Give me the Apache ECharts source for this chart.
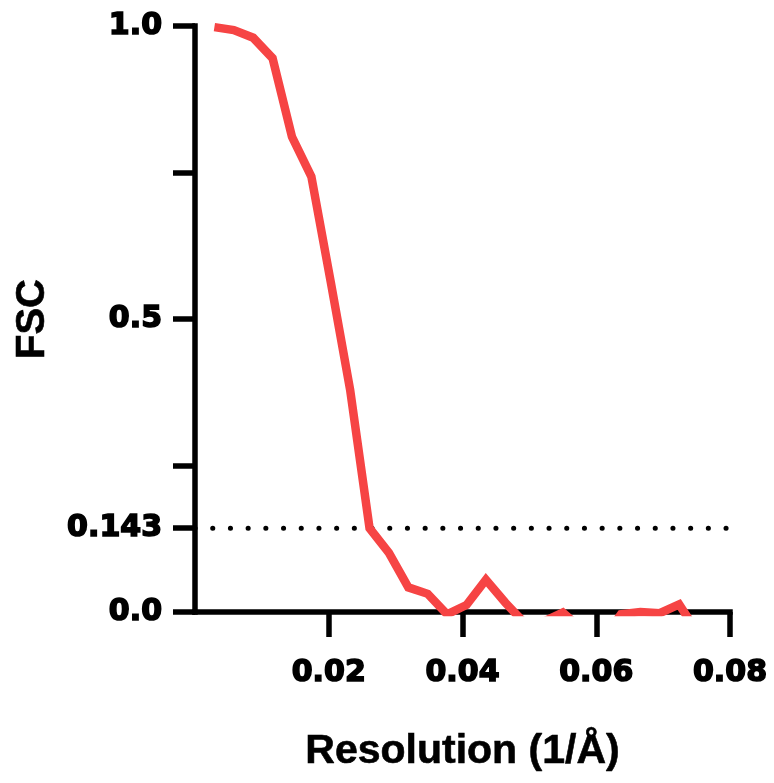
<!DOCTYPE html>
<html><head><meta charset="utf-8">
<script src="https://cdn.jsdelivr.net/npm/echarts@6/dist/echarts.min.js"></script>
<style>html,body{margin:0;padding:0;background:#fff}#c{width:774px;height:783px}</style>
</head><body><div id="c"></div>
<script>
// Spatial frequency (1/Å)
const resolution = [0.0029, 0.0058, 0.0087, 0.0116, 0.0145, 0.0174, 0.0203, 0.0232, 0.0261,
  0.0290, 0.0319, 0.0348, 0.0377, 0.0406, 0.0435, 0.0464, 0.0493, 0.0522, 0.0550,
  0.0579, 0.0608, 0.0637, 0.0666, 0.0695, 0.0724, 0.0753, 0.0782];
// Fourier shell correlation
const fsc = [0.998, 0.993, 0.980, 0.945, 0.811, 0.743, 0.563, 0.379, 0.143,
  0.101, 0.042, 0.031, -0.004, 0.012, 0.055, 0.016, -0.019, -0.016, -0.001,
  -0.030, -0.050, -0.004, 0.000, -0.002, 0.013, -0.038, -0.020];
const thresholdX = [0, 0.08];
const thresholdY = [0.143, 0.143];
const yTickValues = [0, 0.143, 0.25, 0.5, 0.75, 1];
const yLabelValues = [0, 0.143, 0.5, 1];
const yLabelTexts = ['0.0', '0.143', '0.5', '1.0'];
const xTickValues = [0.02, 0.04, 0.06, 0.08];
const xLabelTexts = ['0.02', '0.04', '0.06', '0.08'];

const curve = resolution.map((x, i) => [x, fsc[i]]);
const threshold = thresholdX.map((x, i) => [x, thresholdY[i]]);

function lookup(vals, texts) {
  return function (v) {
    for (let i = 0; i < vals.length; i++) if (Math.abs(vals[i] - v) < 1e-9) return texts[i];
    return '';
  };
}

const tickFont = {fontFamily: 'DejaVu Sans', fontWeight: 'bold', fontSize: 30, color: '#000',
  textBorderColor: '#000', textBorderWidth: 1.6};

const chart = echarts.init(document.getElementById('c'), null, {renderer: 'canvas'});
chart.setOption({
  animation: false,
  backgroundColor: '#ffffff',
  grid: {left: 195, right: 44, top: 26, bottom: 171, containLabel: false},
  xAxis: {
    type: 'value', min: 0, max: 0.08,
    name: 'Resolution (1/Å)', nameLocation: 'middle', nameGap: 119,
    nameTextStyle: {fontFamily: 'Liberation Sans', fontWeight: 'bold', fontSize: 41, color: '#000',
      textBorderColor: '#000', textBorderWidth: 0.6},
    axisLine: {show: true, onZero: false, lineStyle: {color: '#000', width: 5.5, cap: 'square'}},
    axisTick: {show: true, customValues: xTickValues, length: 25, lineStyle: {color: '#000', width: 5.5}},
    axisLabel: Object.assign({show: true, customValues: xTickValues, margin: 46,
      formatter: lookup(xTickValues, xLabelTexts)}, tickFont),
    splitLine: {show: false}
  },
  yAxis: {
    type: 'value', min: 0, max: 1,
    name: 'FSC', nameLocation: 'middle', nameGap: 142, nameRotate: 90,
    nameTextStyle: {fontFamily: 'Liberation Sans', fontWeight: 'bold', fontSize: 40, color: '#000',
      textBorderColor: '#000', textBorderWidth: 0.6},
    axisLine: {show: true, onZero: false, lineStyle: {color: '#000', width: 5.5, cap: 'square'}},
    axisTick: {show: true, customValues: yTickValues, length: 22, lineStyle: {color: '#000', width: 5.5}},
    axisLabel: Object.assign({show: true, customValues: yLabelValues, margin: 33,
      formatter: lookup(yLabelValues, yLabelTexts)}, tickFont),
    splitLine: {show: false}
  },
  series: [
    {
      type: 'line', data: threshold, symbol: 'none', z: 2, silent: true,
      lineStyle: {color: '#000', width: 5, type: [0.1, 17.6], cap: 'round'}
    },
    {
      type: 'line', data: curve, symbol: 'none', z: 3, clip: true, silent: true,
      lineStyle: {color: '#F64444', width: 8.5, join: 'miter'}
    }
  ]
});
</script>
</body></html>
